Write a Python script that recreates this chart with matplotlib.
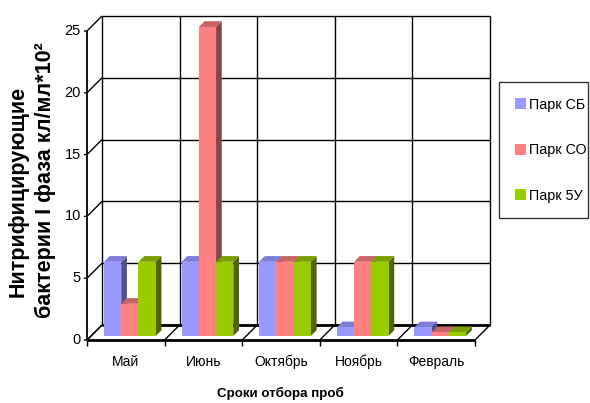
import matplotlib.pyplot as plt
from matplotlib.patches import Polygon, Patch

months = ['Май', 'Июнь', 'Октябрь', 'Ноябрь', 'Февраль']
series = ['Парк СБ', 'Парк СО', 'Парк 5У']
park_sb = [6, 6, 6, 0.7, 0.7]
park_so = [2.6, 25, 6, 6, 0.3]
park_5u = [6, 6, 6, 6, 0.3]
yticks = [0, 5, 10, 15, 20, 25]

front = ['#9999FF', '#FF8080', '#99CC00']
top = ['#7D7DD6', '#C86464', '#7A9F00']
side = ['#505090', '#804848', '#4D6600']

narrow = ['Liberation Sans Narrow', 'Liberation Sans', 'DejaVu Sans']
bold = ['Liberation Sans', 'DejaVu Sans']

fig = plt.figure(figsize=(5.9, 4.03), dpi=100)
ax = fig.add_axes([87 / 590, 63 / 403, 388 / 590, 309 / 403])
ax.set_xlim(0, 5)
ax.set_ylim(0, 25)
ax.axis('off')

n = len(months)
ymax = yticks[-1]
DX = 15 / 77.6     # depth offset, category units
DY = 15 / 12.36    # depth offset, value units

def line(xs, ys, lw=1.0, z=2):
    ax.plot(xs, ys, color='black', lw=lw, clip_on=False, solid_capstyle='butt', zorder=z)

def face(pts, color):
    ax.add_patch(Polygon(pts, closed=True, fc=color, ec='none', clip_on=False, zorder=3))

# back wall and left wall
ax.add_patch(Polygon([(DX, DY), (n + DX, DY), (n + DX, ymax + DY), (DX, ymax + DY)],
                     closed=True, fc='white', ec='none', clip_on=False, zorder=0))
for v in yticks:
    line([DX, n + DX], [v + DY, v + DY])
    line([-0.04, 0, DX], [v, v, v + DY])
for k in range(1, n + 1):
    line([k + DX, k + DX], [DY, ymax + DY])
line([DX, DX], [DY, ymax + DY])
line([0, 0], [0, ymax], lw=1.3)

# floor
line([DX, n + DX], [DY, DY], lw=2)
line([0, n], [0, 0], lw=2, z=4)
for k in range(0, n + 1):
    line([k, k + DX], [0, DY])
    line([k, k], [0, -0.5], z=4)

# columns
w = 1 / 4.5
f0, f1 = 0.27, 0.65
ddx, ddy = (f1 - f0) * DX, (f1 - f0) * DY
for k in range(n):
    for i, vals in enumerate([park_sb, park_so, park_5u]):
        v = vals[k]
        x0 = k + 0.75 * w + i * w + f0 * DX
        y0 = f0 * DY
        face([(x0 + w, y0), (x0 + w + ddx, y0 + ddy),
              (x0 + w + ddx, y0 + v + ddy), (x0 + w, y0 + v)], side[i])
        face([(x0, y0 + v), (x0 + w, y0 + v),
              (x0 + w + ddx, y0 + v + ddy), (x0 + ddx, y0 + v + ddy)], top[i])
        face([(x0, y0), (x0 + w, y0), (x0 + w, y0 + v), (x0, y0 + v)], front[i])

# labels
for v in yticks:
    ax.text(-0.08, v, str(v), ha='right', va='center', fontsize=10.5, family=narrow)
for k, m in enumerate(months):
    ax.text(k + 0.5, -1.8, m, ha='center', va='center', fontsize=10, family=narrow)

fig.text(280 / 590, 1 - 393 / 403, 'Сроки отбора проб', ha='center', va='center',
         fontsize=9.6, fontweight='bold', family=narrow)
fig.text(18 / 590, 1 - 191 / 403, 'Нитрифицирующие', rotation=90, ha='center',
         va='center', fontsize=15.5, fontweight='bold', family=bold)
fig.text(45 / 590, 1 - 180 / 403, 'бактерии I фаза кл/мл*10²', rotation=90,
         ha='center', va='center', fontsize=15.5, fontweight='bold', family=bold)

handles = [Patch(fc=c, ec='none') for c in front]
leg = fig.legend(handles, series, loc='upper left',
                 bbox_to_anchor=(499 / 590, 1 - 82 / 403, 89 / 590, 0), mode='expand',
                 borderaxespad=0, frameon=True, fancybox=False, edgecolor='black',
                 handlelength=0.8, handleheight=0.8, handletextpad=0.2,
                 labelspacing=2.2, borderpad=1.1, prop={'family': narrow, 'size': 10.3})
leg.get_frame().set_linewidth(1.0)

fig.savefig('out.png', dpi=100)
